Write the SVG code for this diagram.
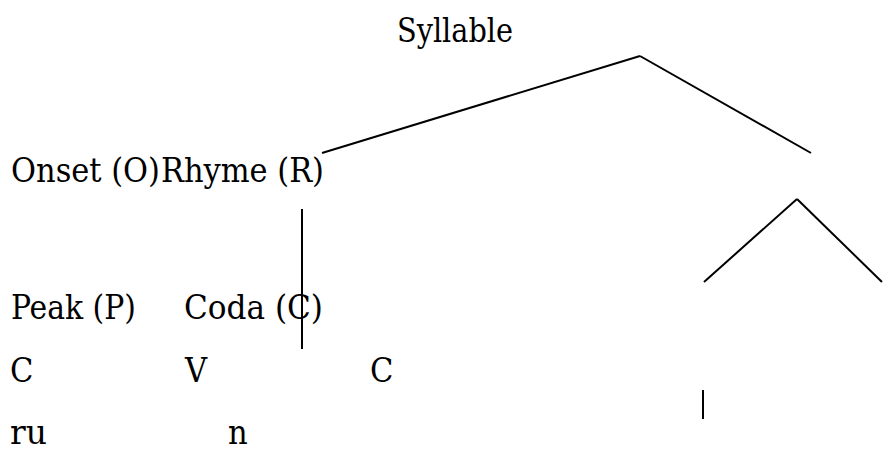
<svg xmlns="http://www.w3.org/2000/svg" width="886" height="453" viewBox="0 0 886 453">
<style>
text{font-family:'DejaVu Serif Condensed','DejaVu Serif',serif;font-size:34px;fill:#000}
.ln{stroke:#000;stroke-width:2;fill:none}
</style>
<rect width="886" height="453" fill="#fff"/>
<g id="connectors">
<line class="ln" x1="640" y1="56" x2="322" y2="153"/>
<line class="ln" x1="640" y1="56" x2="811" y2="153"/>
<line class="ln" x1="302" y1="209" x2="302" y2="349"/>
<line class="ln" x1="797" y1="199" x2="704" y2="282"/>
<line class="ln" x1="797" y1="199" x2="882" y2="282"/>
<line class="ln" x1="703" y1="390" x2="703" y2="419"/>
</g>
<g id="syllable"><text x="397" y="42" textLength="116" lengthAdjust="spacingAndGlyphs">Syllable</text></g>
<g id="onset-rhyme"><text y="182"><tspan x="11" textLength="149" lengthAdjust="spacingAndGlyphs">Onset (O)</tspan><tspan x="161" textLength="163" lengthAdjust="spacingAndGlyphs">Rhyme (R)</tspan></text></g>
<g id="peak"><text x="11" y="319" textLength="125" lengthAdjust="spacingAndGlyphs">Peak (P)</text></g>
<g id="coda"><text x="184" y="319" textLength="139" lengthAdjust="spacingAndGlyphs">Coda (C)</text></g>
<g id="c1"><text x="10" y="382">C</text></g>
<g id="v"><text x="185" y="382">V</text></g>
<g id="c2"><text x="370" y="382">C</text></g>
<g id="ru"><text x="10" y="444" textLength="37" lengthAdjust="spacingAndGlyphs">ru</text></g>
<g id="n"><text x="228" y="444">n</text></g>
</svg>
